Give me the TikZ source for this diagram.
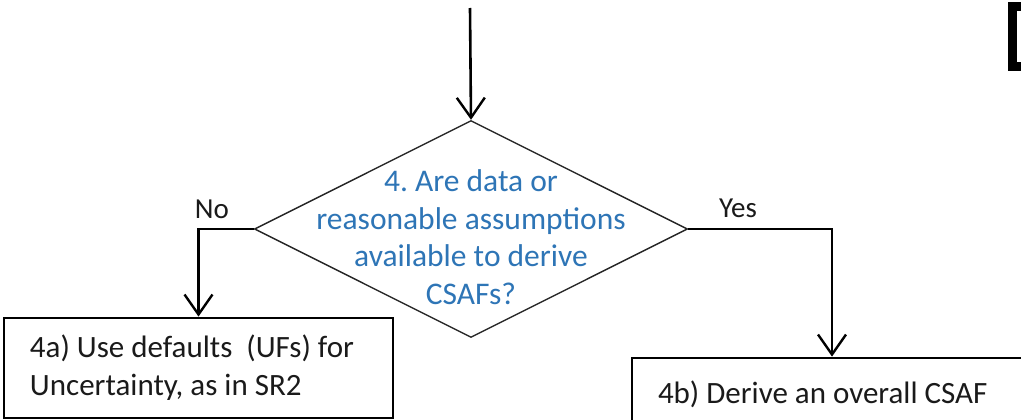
\documentclass[tikz,border=0pt]{standalone}
\usepackage{fontspec}
\setmainfont{Carlito}
\usetikzlibrary{shapes.geometric,arrows.meta}
\definecolor{qblue}{HTML}{2E75B6}
\definecolor{darktext}{HTML}{1A1A1A}

\begin{document}
\begin{tikzpicture}[x=1pt,y=-1pt,
  flowarrow/.style={line width=2.6pt,-{Straight Barb[length=20pt,width=28pt,line width=2.4pt]}},
  stepbox/.style={draw,line width=2.8pt,inner xsep=26pt,inner ysep=0pt,align=flush left,
    font=\fontsize{31}{38}\selectfont,text=darktext}]
  \useasboundingbox (0,0) rectangle (1021,420);
  \clip (0,0) rectangle (1021,420);
  \node[diamond,draw=black!85,line width=1.4pt,minimum width=433pt,minimum height=217pt,inner sep=0pt] (q4) at (471,229) {};
  \node[align=center,text=qblue,font=\fontsize{31.5}{37.5}\selectfont] (q4text) at (471,237)
    {4.\ Are data or\\reasonable assumptions\\available to derive\\CSAFs?};
  \node[stepbox,minimum width=389pt,minimum height=100pt,text width=337pt] (a4) at (198.5,368)
    {4a) Use defaults\ \ (UFs) for\\Uncertainty, as in SR2};
  \node[stepbox,minimum width=400pt,minimum height=72pt,text width=348pt] (b4) at (832,394)
    {4b) Derive an overall CSAF};
  \node[text=darktext,font=\fontsize{29}{34}\selectfont] (nolabel) at (212,209) {No};
  \node[text=darktext,font=\fontsize{29}{34}\selectfont] (yeslabel) at (738,208) {Yes};
  \coordinate (top) at (470,8);
  \draw[flowarrow] (top) -- (q4.north);
  \draw[flowarrow] (q4.west) -| (a4.north);
  \draw[flowarrow] (q4.east) -| (b4.north);
  \draw[line width=8.5pt] (1012.5,6.5) rectangle (1080,66.5);
\end{tikzpicture}
\end{document}
